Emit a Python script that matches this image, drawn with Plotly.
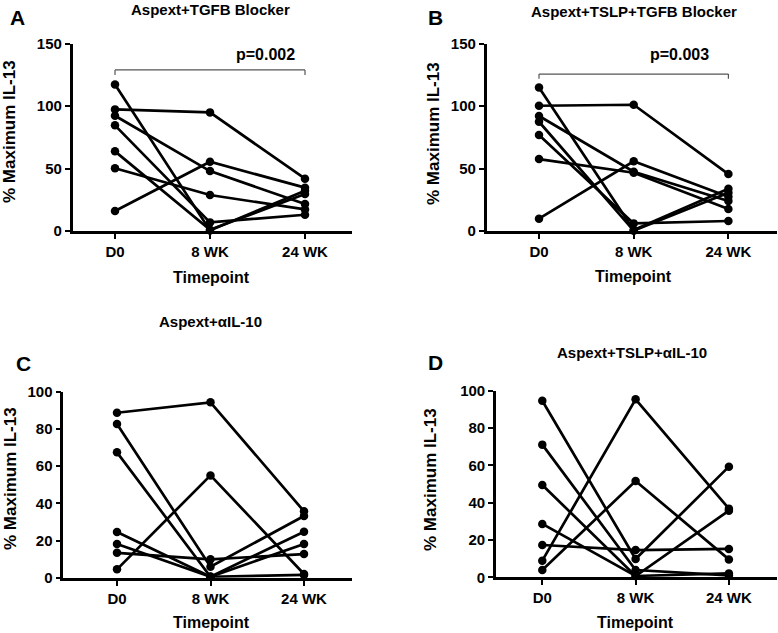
import plotly.graph_objects as go

timepoints = ["D0", "8 WK", "24 WK"]

# Panel A: Aspext+TGFB Blocker (one list per subject: D0, 8WK, 24WK)
panel_a = [
    [117.4, 0.5, 32.3],
    [97.4, 95.0, 41.9],
    [92.3, 48.0, 21.6],
    [84.6, 6.9, 13.0],
    [63.8, 1.0, 29.6],
    [50.2, 28.8, 17.3],
    [16.0, 55.5, 34.7],
]
# Panel B: Aspext+TSLP+TGFB Blocker
panel_b = [
    [115.0, 0.8, 33.9],
    [100.3, 101.1, 45.6],
    [92.1, 47.5, 24.0],
    [87.5, 0.3, 30.7],
    [76.9, 6.1, 8.0],
    [57.6, 46.7, 17.6],
    [9.9, 55.8, 27.5],
]
# Panel C: Aspext+aIL-10
panel_c = [
    [88.7, 94.3, 35.7],
    [82.6, 5.9, 33.2],
    [67.4, 0.5, 24.7],
    [24.6, 0.5, 18.1],
    [18.1, 0.5, 1.5],
    [13.4, 9.9, 12.7],
    [4.5, 55.0, 2.0],
]
# Panel D: Aspext+TSLP+aIL-10
panel_d = [
    [94.6, 9.8, 59.3],
    [71.1, 3.9, 1.0],
    [49.5, 0.7, 35.7],
    [28.6, 0.7, 2.1],
    [17.3, 14.6, 15.2],
    [8.9, 95.4, 36.8],
    [3.9, 51.6, 9.6],
]

titles = ["Aspext+TGFB Blocker", "Aspext+TSLP+TGFB Blocker", "Aspext+\u03b1IL-10", "Aspext+TSLP+\u03b1IL-10"]
letters = ["A", "B", "C", "D"]
p_values = ["p=0.002", "p=0.003", "p=0.02", None]
y_max = [150, 150, 100, 100]
y_dtick = [50, 50, 20, 20]
bracket_y = [129, 125.7, 103.6, None]
bracket_drop = [4, 3.7, 2.7, None]
p_text_y = [141.5, 141.5, 113, None]
p_text_x = [1.58, 1.48, 1.63, None]

W, H = 778, 633
# pixel geometry of each panel: (axis left px, axis right px, y0 px, ymax px, D0 px, spacing px)
geom = [
    (72.7, 351.7, 231.0, 43.7, 115.0, 95.0),
    (486.7, 776.7, 231.0, 43.7, 539.0, 94.7),
    (63.3, 351.7, 577.7, 391.7, 117.0, 93.5),
    (496.0, 776.7, 577.3, 390.7, 542.3, 93.3),
]
title_pos = [(210, 9), (634, 12), (210, 321), (632, 353)]
letter_pos = [(17, 17), (435, 17), (23, 363), (435, 362)]
ytitle_pos = [(10, 132), (433, 134), (10, 479), (431, 480)]
xtitle_pos = [(212, 277), (633, 276), (212, 622), (635, 622)]

panels = [panel_a, panel_b, panel_c, panel_d]

fig = go.Figure()
FONT = "Liberation Sans, Arial, sans-serif"
annotations = []
shapes = []

for i, data in enumerate(panels):
    n = "" if i == 0 else str(i + 1)
    xa, ya = "x" + n, "y" + n
    left, right, y0px, ympx, d0px, sp = geom[i]
    xr = [(left - d0px) / sp, (right - d0px) / sp]
    for subj in data:
        fig.add_trace(go.Scatter(
            x=[0, 1, 2], y=subj, mode="lines+markers",
            line=dict(color="black", width=2.7),
            marker=dict(color="black", size=8.5),
            xaxis=xa, yaxis=ya, showlegend=False, cliponaxis=False,
        ))
    axis_common = dict(showgrid=False, zeroline=False, showline=True, linecolor="black",
                       linewidth=2.6, ticks="outside", ticklen=5, tickwidth=2.2, tickcolor="black",
                       automargin=False,
                       tickfont=dict(family=FONT, size=15, color="black", weight="bold"))
    fig.layout["xaxis" + n] = dict(
        domain=[left / W, right / W], range=xr, anchor=ya,
        tickvals=[0, 1, 2], ticktext=timepoints, **axis_common)
    fig.layout["yaxis" + n] = dict(
        domain=[(H - y0px) / H, (H - ympx) / H], range=[0, y_max[i]], anchor=xa,
        dtick=y_dtick[i], tick0=0, **axis_common)

    # texts
    tx, ty = title_pos[i]
    annotations.append(dict(x=tx / W, y=1 - ty / H, xref="paper", yref="paper", text=titles[i],
                            showarrow=False, font=dict(family=FONT, size=15, color="black", weight="bold"),
                            xanchor="center", yanchor="middle"))
    lx, ly = letter_pos[i]
    annotations.append(dict(x=lx / W, y=1 - ly / H, xref="paper", yref="paper", text=letters[i],
                            showarrow=False, font=dict(family=FONT, size=21, color="black", weight="bold"),
                            xanchor="center", yanchor="middle"))
    yx, yy = ytitle_pos[i]
    annotations.append(dict(x=yx / W, y=1 - yy / H, xref="paper", yref="paper", text="% Maximum IL-13",
                            showarrow=False, textangle=-90,
                            font=dict(family=FONT, size=17, color="black", weight="bold"),
                            xanchor="center", yanchor="middle"))
    xx, xy = xtitle_pos[i]
    annotations.append(dict(x=xx / W, y=1 - xy / H, xref="paper", yref="paper", text="Timepoint",
                            showarrow=False, font=dict(family=FONT, size=16, color="black", weight="bold"),
                            xanchor="center", yanchor="middle"))
    if p_values[i]:
        annotations.append(dict(x=p_text_x[i], y=p_text_y[i], xref=xa, yref=ya, text=p_values[i],
                                showarrow=False, font=dict(family=FONT, size=16, color="black", weight="bold"),
                                xanchor="center", yanchor="middle"))
        by, bd = bracket_y[i], bracket_drop[i]
        for (x0, y0_, x1, y1_) in [(0, by, 2, by), (0, by, 0, by - bd), (2, by, 2, by - bd)]:
            shapes.append(dict(type="line", xref=xa, yref=ya, x0=x0, y0=y0_, x1=x1, y1=y1_,
                               line=dict(color="#555555", width=1.2)))

fig.update_layout(width=W, height=H, margin=dict(l=0, r=0, t=0, b=0, pad=0, autoexpand=False),
                  plot_bgcolor="white", paper_bgcolor="white",
                  annotations=annotations, shapes=shapes, showlegend=False)
fig.write_html("out.html", config={"displayModeBar": False},
               post_script="document.body.style.margin='0';document.body.style.overflow='hidden';")
